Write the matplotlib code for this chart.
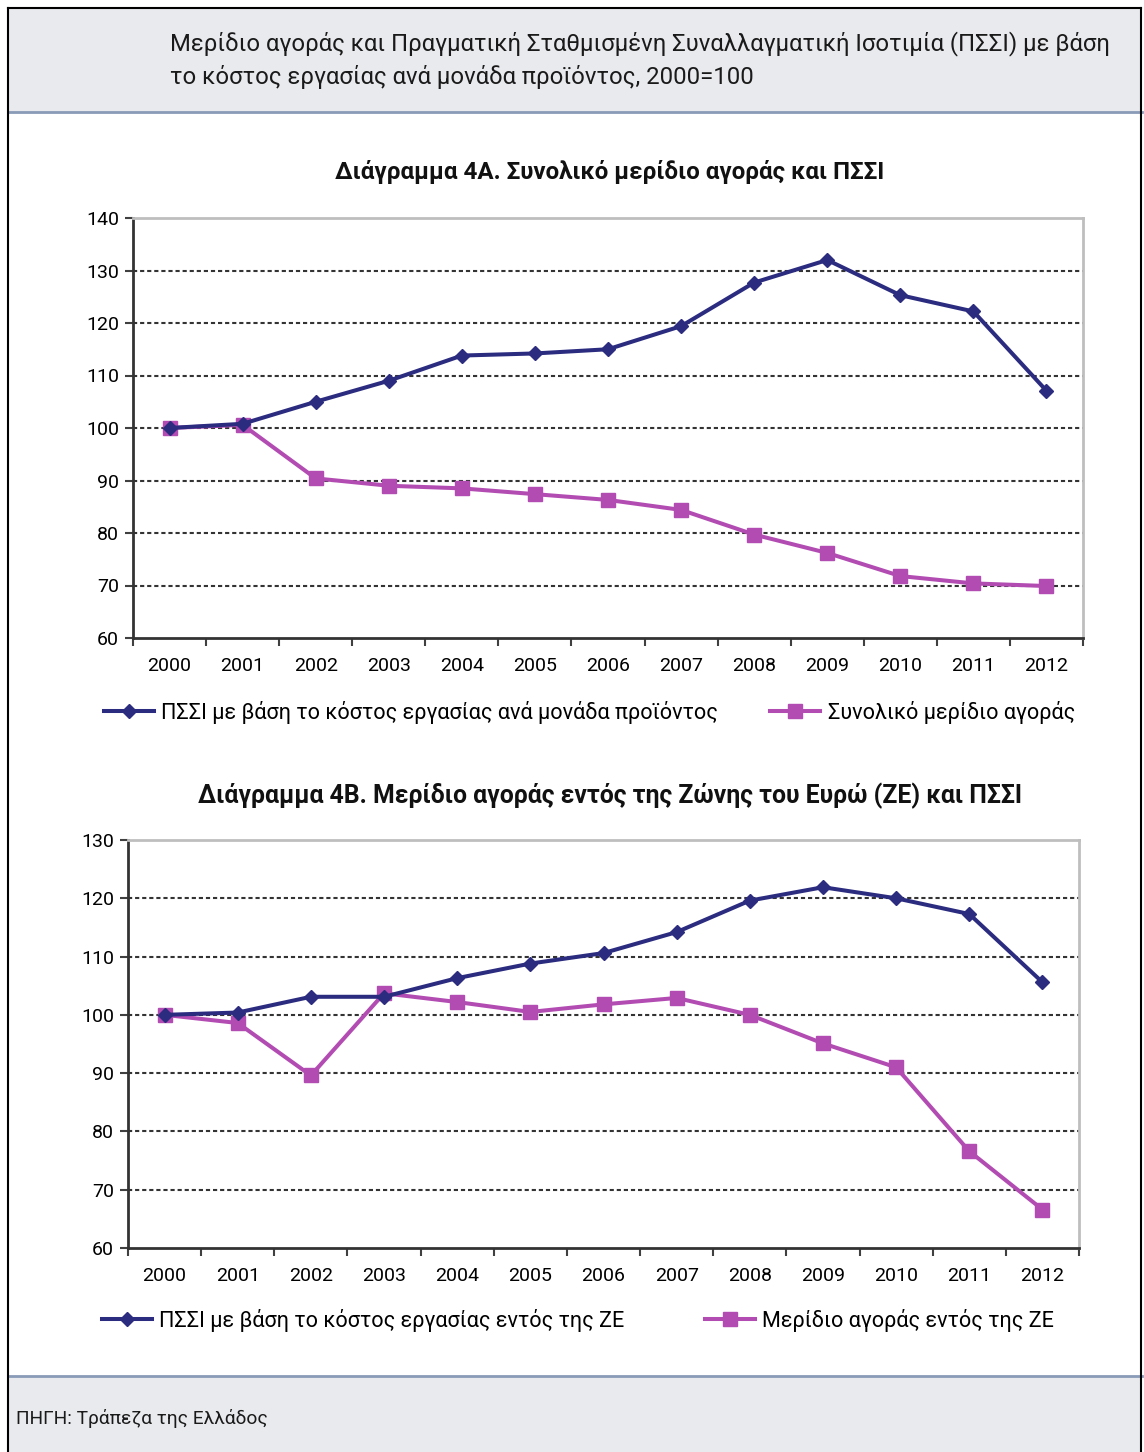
import matplotlib
matplotlib.use("Agg")
import matplotlib.pyplot as plt
from matplotlib.patches import Rectangle
from matplotlib.lines import Line2D
from matplotlib import font_manager

years = ["2000", "2001", "2002", "2003", "2004", "2005", "2006",
         "2007", "2008", "2009", "2010", "2011", "2012"]

reer_total = [100, 100.8, 105.0, 109.0, 113.8, 114.2, 115.0, 119.4, 127.7, 132.0, 125.3, 122.2, 107.1]
share_total = [100, 100.6, 90.4, 89.0, 88.5, 87.4, 86.3, 84.4, 79.7, 76.2, 71.8, 70.4, 69.9]

reer_ez = [100, 100.4, 103.1, 103.1, 106.3, 108.8, 110.6, 114.2, 119.6, 121.9, 120.0, 117.3, 105.6]
share_ez = [100, 98.6, 89.6, 103.7, 102.2, 100.5, 101.8, 102.9, 100.0, 95.1, 91.0, 76.6, 66.6]

header = ("Μερίδιο αγοράς και Πραγματική Σταθμισμένη Συναλλαγματική Ισοτιμία (ΠΣΣΙ) με βάση\n"
          "το κόστος εργασίας ανά μονάδα προϊόντος, 2000=100")
title_a = "Διάγραμμα 4Α. Συνολικό μερίδιο αγοράς και ΠΣΣΙ"
title_b = "Διάγραμμα 4Β. Μερίδιο αγοράς εντός της Ζώνης του Ευρώ (ΖΕ) και ΠΣΣΙ"
legend_a = ["ΠΣΣΙ με βάση το κόστος εργασίας ανά μονάδα προϊόντος", "Συνολικό μερίδιο αγοράς"]
legend_b = ["ΠΣΣΙ με βάση το κόστος εργασίας εντός της ΖΕ", "Μερίδιο αγοράς εντός της ΖΕ"]
source = "ΠΗΓΗ: Τράπεζα της Ελλάδος"

names = {f.name for f in font_manager.fontManager.ttflist}
if "Liberation Sans Narrow" in names:
    FAM = ["Liberation Sans Narrow", "DejaVu Sans"]
else:
    FAM = ["Roboto", "DejaVu Sans"]
plt.rcParams["font.family"] = FAM

BLUE = "#2B2B80"
PINK = "#B24CB2"
W, H = 1144, 1452

fig = plt.figure(figsize=(W / 100, H / 100), dpi=100)
fig.patch.set_facecolor("white")


def fx(x):
    return x / W


def fy(y):
    return 1 - y / H


# header & footer panels
fig.patches.append(Rectangle((fx(8), fy(112)), fx(1134), 104 / H, transform=fig.transFigure,
                             facecolor="#E9EAEE", edgecolor="none", zorder=0))
fig.patches.append(Rectangle((fx(8), 0), fx(1134), fy(1376), transform=fig.transFigure,
                             facecolor="#E9EAEE", edgecolor="none", zorder=0))
fig.lines.append(Line2D([fx(8), fx(1142)], [fy(112), fy(112)], transform=fig.transFigure,
                        color="#8A9BB8", lw=2))
fig.lines.append(Line2D([fx(8), fx(1142)], [fy(1376), fy(1376)], transform=fig.transFigure,
                        color="#8A9BB8", lw=2))
# outer border
fig.lines.append(Line2D([fx(8), fx(8)], [0, fy(8)], transform=fig.transFigure, color="black", lw=1.5))
fig.lines.append(Line2D([fx(1141), fx(1141)], [0, fy(8)], transform=fig.transFigure, color="black", lw=1.5))
fig.lines.append(Line2D([fx(8), fx(1141)], [fy(8), fy(8)], transform=fig.transFigure, color="black", lw=1.5))

fig.text(fx(170), fy(60), header, fontsize=17.2, color="#1a1a1a", va="center", ha="left",
         linespacing=1.5)
fig.text(fx(16), fy(1418), source, fontsize=13.8, color="#1a1a1a", va="center", ha="left")


def panel(rect, s1, s2, ylim, title, title_y, labels, leg_y, leg_x, colsp, tsize):
    l, t, r, b = rect
    ax = fig.add_axes([fx(l), fy(b), (r - l) / W, (b - t) / H])
    x = list(range(len(years)))
    ax.plot(x, s1, color=BLUE, lw=2.9, marker="D", markersize=7.5, label=labels[0], zorder=4)
    ax.plot(x, s2, color=PINK, lw=2.9, marker="s", markersize=10.5, label=labels[1], zorder=3)
    ax.set_xlim(-0.5, len(years) - 0.5)
    ax.set_ylim(*ylim)
    ax.set_yticks(range(ylim[0], ylim[1] + 1, 10))
    ax.set_xticks(x)
    ax.set_xticklabels(years)
    ax.set_xticks([i - 0.5 for i in range(len(years) + 1)], minor=True)
    ax.tick_params(axis="x", which="major", length=0, pad=14, labelsize=14)
    ax.tick_params(axis="x", which="minor", length=6, width=1.5, color="#404040")
    ax.tick_params(axis="y", length=6, width=1.5, color="#404040", labelsize=14, pad=4)
    for yv in range(ylim[0] + 10, ylim[1], 10):
        ax.axhline(yv, color="#333333", lw=1.5, ls=(0, (2, 1.4)), zorder=1)
    for side in ("left", "bottom"):
        ax.spines[side].set_color("#333333")
        ax.spines[side].set_linewidth(2)
    for side in ("top", "right"):
        ax.spines[side].set_color("#BEBEBE")
        ax.spines[side].set_linewidth(2)
    fig.text(fx(610), fy(title_y), title, fontsize=tsize, fontweight="bold", ha="center",
             va="center", color="#111111")
    fig.legend(handles=ax.get_lines()[:2], labels=labels, loc="center left",
               bbox_to_anchor=(fx(leg_x), fy(leg_y)), ncol=2, frameon=False, fontsize=15.6,
               handlelength=2.3, handletextpad=0.35, columnspacing=colsp, borderaxespad=0,
               borderpad=0)
    return ax


panel((133, 218, 1083, 638), reer_total, share_total, (60, 140), title_a, 172,
      legend_a, 712, 104, 2.4, 17.4)
panel((128, 840, 1079, 1248), reer_ez, share_ez, (60, 130), title_b, 796,
      legend_b, 1320, 102, 3.7, 17.8)

fig.savefig("out.png", dpi=100)
